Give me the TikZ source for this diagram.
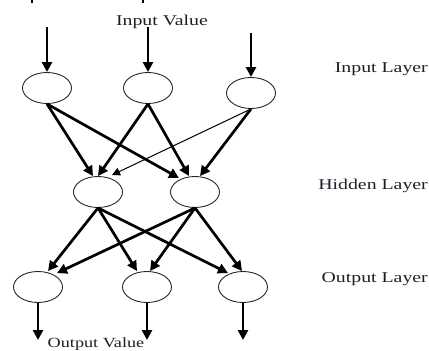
\documentclass[tikz,border=0pt]{standalone}
\usepackage{fontspec}
\setmainfont{Liberation Serif}
\usetikzlibrary{shapes.geometric,arrows.meta,calc}
\definecolor{txt}{RGB}{30,30,40}
\begin{document}
\begin{tikzpicture}[x=1pt,y=-1pt,
  neuron/.style={ellipse,draw=black!85,line width=0.9pt,minimum width=49pt,minimum height=31pt,inner sep=0pt},
  conn/.style={line width=2.7pt,-{Triangle[length=10pt,width=10pt]}},
  thinconn/.style={line width=1pt,-{Triangle[length=8pt,width=8pt]}},
  lbl/.style={inner sep=0pt,text=txt,font=\fontsize{15}{15}\selectfont}]
\path[use as bounding box] (0,0) rectangle (429,351);
% top fragments
\draw[line width=1.2pt] (32,0) -- (32,3);
\draw[line width=1.2pt] (143,0) -- (143,3);
% neurons
\node[neuron] (i1) at (47,88) {};
\node[neuron] (i2) at (148,88) {};
\node[neuron] (i3) at (251,93) {};
\node[neuron] (h1) at (98,192) {};
\node[neuron] (h2) at (195,192) {};
\node[neuron] (o1) at (38,287) {};
\node[neuron] (o2) at (147,287) {};
\node[neuron] (o3) at (243,287) {};
% input arrows
\coordinate (t1) at (47,27);
\coordinate (t2) at (148,27);
\coordinate (t3) at (251,33);
\draw[conn] (t1) -- (i1.north);
\draw[conn] (t2) -- (i2.north);
\draw[conn] (t3) -- (i3.north);
% input -> hidden
\draw[conn] (i1.south) -- ($(h1.north)+(-5,0)$);
\draw[conn] (i1.south) -- ($(h2.north)+(-16,2)$);
\draw[conn] (i2.south) -- (h1.north);
\draw[conn] (i2.south) -- ($(h2.north)+(-6,0)$);
\draw[thinconn] (i3.south) -- ($(h1.north)+(14,-1)$);
\draw[conn] (i3.south) -- ($(h2.north)+(5,0)$);
% hidden -> output
\draw[conn] (h1.south) -- ($(o1.north)+(10,0)$);
\draw[conn] (h1.south) -- ($(o2.north)+(-10,0)$);
\draw[conn] (h1.south) -- ($(o3.north)+(-15,2)$);
\draw[conn] (h2.south) -- ($(o1.north)+(19,2)$);
\draw[conn] (h2.south) -- ($(o2.north)+(3,0)$);
\draw[conn] (h2.south) -- ($(o3.north)+(-1,0)$);
% output arrows
\coordinate (b1) at (38,340);
\coordinate (b2) at (147,340);
\coordinate (b3) at (243,340);
\draw[conn] (o1.south) -- (b1);
\draw[conn] (o2.south) -- (b2);
\draw[conn] (o3.south) -- (b3);
% labels
\node[lbl] (iv) at (162,22) {\scalebox{1.32}[1]{Input Value}};
\node[lbl,anchor=east] (il) at (428,69) {\scalebox{1.32}[1]{Input Layer}};
\node[lbl,anchor=east] (hl) at (428,186) {\scalebox{1.32}[1]{Hidden Layer}};
\node[lbl,anchor=east] (ol) at (428,279) {\scalebox{1.32}[1]{Output Layer}};
\node[lbl,anchor=south,font=\fontsize{14}{14}\selectfont] (ov) at (96,351) {\scalebox{1.3}[1]{Output Value}};
\end{tikzpicture}
\end{document}
